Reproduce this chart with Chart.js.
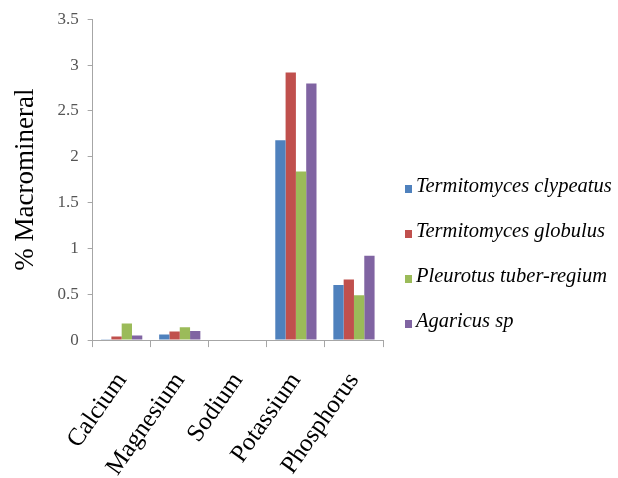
<!DOCTYPE html>
<html>
<head>
<meta charset="utf-8">
<script src="https://cdn.jsdelivr.net/npm/chart.js@4.4.1/dist/chart.umd.min.js"></script>
<style>
  html, body { margin: 0; padding: 0; background: #fff; }
  #wrap { position: relative; width: 618px; height: 478px; overflow: hidden; }
  #legend {
    position: absolute; left: 405px; top: 170px;
    font-family: "Liberation Serif", "DejaVu Serif", serif;
    font-style: italic; font-size: 20.5px; color: #000;
  }
  #legend .item { height: 45px; line-height: 30px; white-space: nowrap; }
  #legend .box { display: inline-block; width: 7px; height: 8px; margin-right: 4px; vertical-align: -1px; }
</style>
</head>
<body>
<div id="wrap">
  <canvas id="mineral-chart"></canvas>
  <div id="legend"></div>
</div>
<script>
// categories and series
const minerals = ['Calcium', 'Magnesium', 'Sodium', 'Potassium', 'Phosphorus'];
const clypeatus = [0.01, 0.06, 0, 2.18, 0.60];
const globulus = [0.04, 0.095, 0, 2.92, 0.66];
const tuberRegium = [0.18, 0.14, 0, 1.84, 0.49];
const agaricus = [0.05, 0.10, 0, 2.80, 0.92];
const speciesNames = ['Termitomyces clypeatus', 'Termitomyces globulus', 'Pleurotus tuber-regium', 'Agaricus sp'];
const yTicks = [0, 0.5, 1, 1.5, 2, 2.5, 3, 3.5];

const colors = ['#4F81BD', '#C0504D', '#9BBB59', '#8064A2'];
const serif = '"Liberation Serif", "DejaVu Serif", serif';

document.addEventListener('DOMContentLoaded', function() {
    const ctx = document.getElementById('mineral-chart').getContext('2d');
    const series = [clypeatus, globulus, tuberRegium, agaricus];

    const chart = new Chart(ctx, {
        type: 'bar',
        data: {
            labels: minerals,
            datasets: series.map((values, i) => ({
                label: speciesNames[i],
                data: values,
                backgroundColor: colors[i],
                borderWidth: 0,
                barPercentage: 1,
                categoryPercentage: 0.71
            }))
        },
        options: {
            responsive: true,
            maintainAspectRatio: false,
            animation: false,
            layout: { padding: { top: 12, right: 235, left: 4, bottom: -23 } },
            plugins: {
                tooltip: { enabled: false },
                legend: { display: false }
            },
            scales: {
                x: {
                    grid: { display: true, drawOnChartArea: false, tickLength: 7, color: '#a6a6a6' },
                    border: { color: '#a6a6a6' },
                    ticks: {
                        color: '#000',
                        minRotation: 55,
                        maxRotation: 55,
                        padding: 20,
                        font: { family: serif, size: 25 }
                    }
                },
                y: {
                    min: 0,
                    max: 3.5,
                    afterBuildTicks: axis => { axis.ticks = yTicks.map(v => ({ value: v })); },
                    grid: { display: true, drawOnChartArea: false, tickLength: 5, color: '#a6a6a6' },
                    border: { color: '#a6a6a6' },
                    ticks: {
                        color: '#555',
                        padding: 9,
                        font: { family: serif, size: 17 },
                        callback: value => String(value)
                    },
                    title: {
                        display: true,
                        text: '% Macromineral',
                        color: '#000',
                        padding: 6,
                        font: { family: serif, size: 27 }
                    }
                }
            }
        }
    });

    // legend built from the datasets
    const legend = document.getElementById('legend');
    chart.data.datasets.forEach(ds => {
        const item = document.createElement('div');
        item.className = 'item';
        const box = document.createElement('span');
        box.className = 'box';
        box.style.background = ds.backgroundColor;
        item.appendChild(box);
        item.appendChild(document.createTextNode(ds.label));
        legend.appendChild(item);
    });
});
</script>
</body>
</html>
